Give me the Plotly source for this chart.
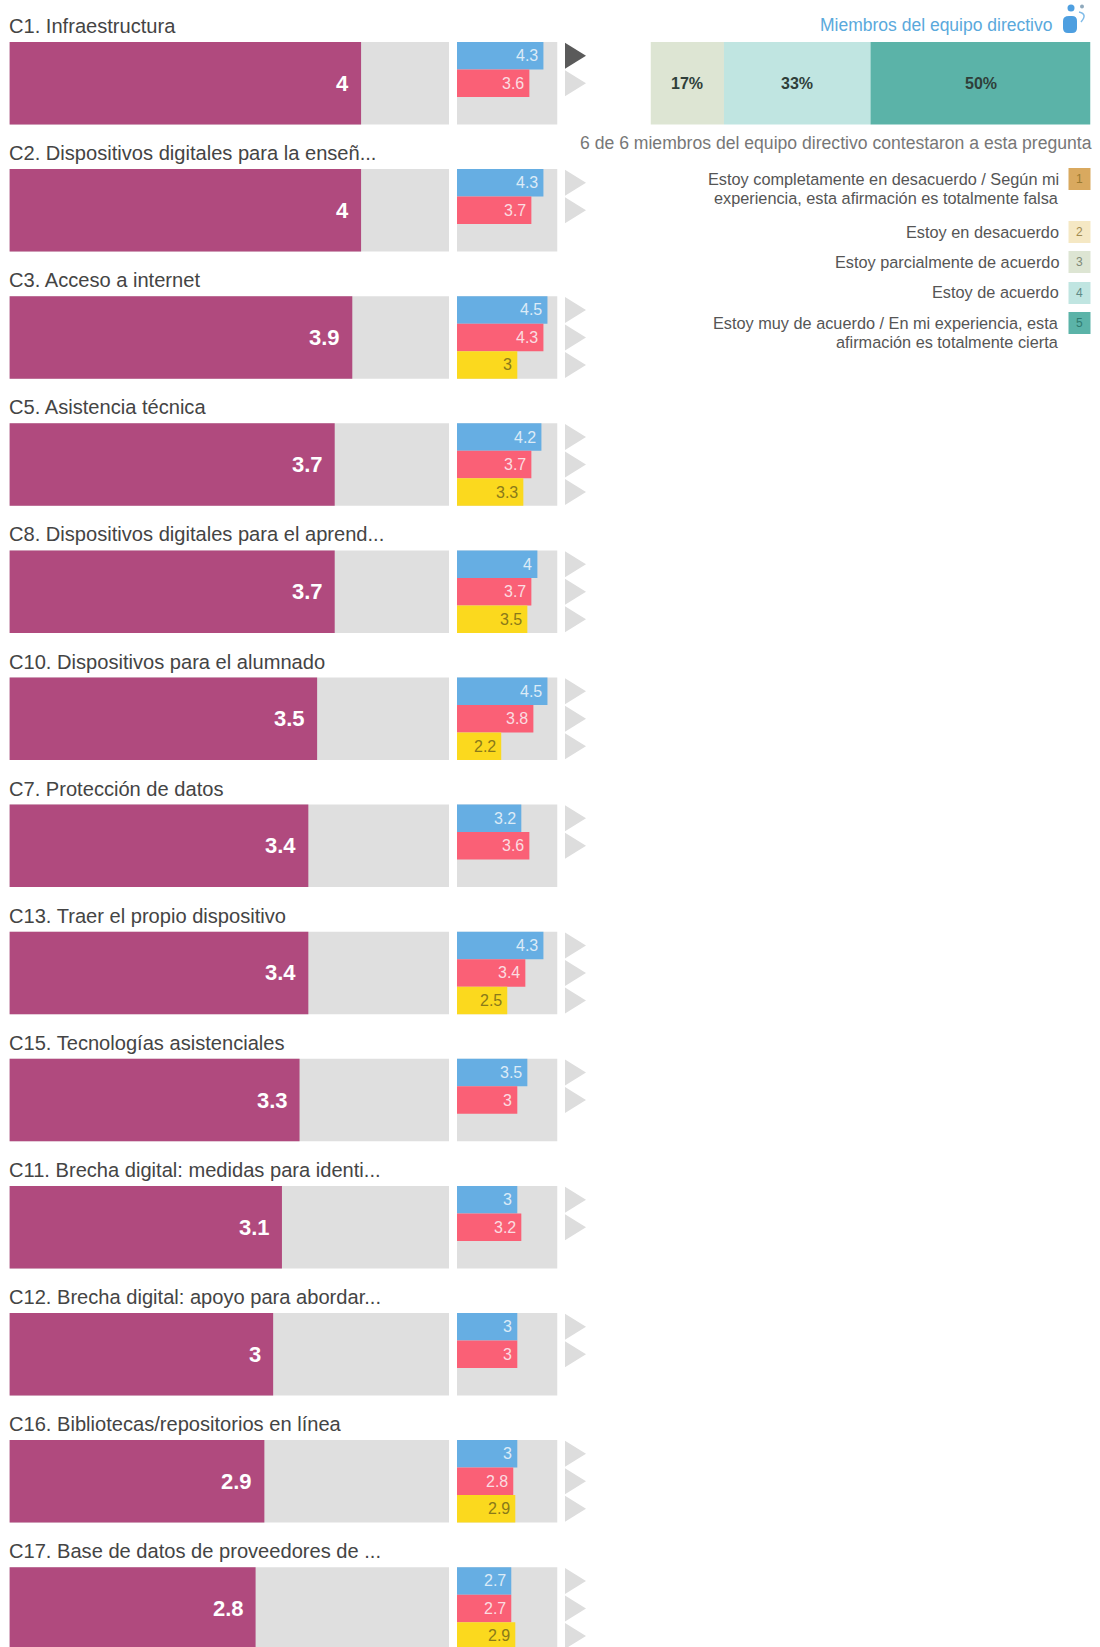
import plotly.graph_objects as go

categories = ["C1. Infraestructura", "C2. Dispositivos digitales para la enseñ...", "C3. Acceso a internet",
              "C5. Asistencia técnica", "C8. Dispositivos digitales para el aprend...", "C10. Dispositivos para el alumnado",
              "C7. Protección de datos", "C13. Traer el propio dispositivo", "C15. Tecnologías asistenciales",
              "C11. Brecha digital: medidas para identi...", "C12. Brecha digital: apoyo para abordar...",
              "C16. Bibliotecas/repositorios en línea", "C17. Base de datos de proveedores de ..."]
main_values = [4, 4, 3.9, 3.7, 3.7, 3.5, 3.4, 3.4, 3.3, 3.1, 3, 2.9, 2.8]
blue_values = [4.3, 4.3, 4.5, 4.2, 4, 4.5, 3.2, 4.3, 3.5, 3, 3, 3, 2.7]
red_values = [3.6, 3.7, 4.3, 3.7, 3.7, 3.8, 3.6, 3.4, 3, 3.2, 3, 2.8, 2.7]
yellow_values = [None, None, 3, 3.3, 3.5, 2.2, None, 2.5, None, None, None, 2.9, 2.9]
stack_percent = [16.7, 33.3, 50]
stack_colors = ["#DDE5D3", "#C0E5E1", "#5BB3A8"]
legend_labels = [["Estoy completamente en desacuerdo / Según mi", "experiencia, esta afirmación es totalmente falsa"],
                 ["Estoy en desacuerdo"], ["Estoy parcialmente de acuerdo"], ["Estoy de acuerdo"],
                 ["Estoy muy de acuerdo / En mi experiencia, esta", "afirmación es totalmente cierta"]]
legend_colors = ["#D9A95F", "#F5E8C4", "#DDE5D3", "#C0E5E1", "#5BB3A8"]
legend_numcolors = ["#9a7a30", "#a08a50", "#7f8a78", "#5f8a85", "#2f7a70"]
legend_top = [168, 221, 251, 282, 312]
legend_lines = [[179, 198], [231.5], [262], [292], [323, 341.5]]

FONT = "Liberation Sans, Arial, sans-serif"
W, H = 1100, 1647
PITCH, BAR_TOP, BAR_H = 127.1, 42, 82.5
C0 = BAR_TOP + BAR_H / 2
BW = BAR_H / PITCH
SLOT = BW / 3
n = len(categories)
rows = list(range(n))

def px(x): return x / W
def py(y): return 1 - y / H

fig = go.Figure()
fig.add_bar(y=rows, x=[5] * n, orientation="h", width=BW, marker=dict(color="#DFDFDF", line_width=0), xaxis="x", yaxis="y", hoverinfo="skip")
fig.add_bar(y=rows, x=[5] * n, orientation="h", width=BW, marker=dict(color="#DFDFDF", line_width=0), xaxis="x2", yaxis="y", hoverinfo="skip")
fig.add_bar(y=rows, x=main_values, orientation="h", width=BW, marker=dict(color="#B04A7E", line_width=0), xaxis="x", yaxis="y", name="main")

series = [(blue_values, "#66AEE3", "#DCEBF7"), (red_values, "#FA6076", "#FBDDE1"), (yellow_values, "#FBD91E", "#8A7A1A")]
annotations = []
shapes = []
for k, (vals, col, tcol) in enumerate(series):
    offs = -BW / 2 + k * SLOT
    fig.add_bar(y=rows, x=vals, orientation="h", width=SLOT, offset=offs, marker=dict(color=col, line_width=0), xaxis="x2", yaxis="y")
    for i, v in enumerate(vals):
        if v is None:
            continue
        yc = i + offs + SLOT / 2
        annotations.append(dict(x=v, y=yc, xref="x2", yref="y", text=str(v), showarrow=False, xanchor="right", yanchor="middle", xshift=-3,
                                font=dict(family=FONT, size=16, color=tcol)))
        cy = C0 + yc * PITCH
        color = "#5A5A5A" if (i == 0 and k == 0) else "#DDDDDD"
        shapes.append(dict(type="path", xref="paper", yref="paper", fillcolor=color, line_width=0, layer="above",
                           path=f"M{px(565)},{py(cy - 13)} L{px(586)},{py(cy)} L{px(565)},{py(cy + 13)} Z"))

for i, (c, v) in enumerate(zip(categories, main_values)):
    annotations.append(dict(x=px(7.4), y=py(26 + i * PITCH), xref="paper", yref="paper", text=c, showarrow=False, xanchor="left", yanchor="middle",
                            font=dict(family=FONT, size=20.1, color="#444444")))
    annotations.append(dict(x=v, y=i, xref="x", yref="y", text=f"<b>{v}</b>", showarrow=False, xanchor="right", yanchor="middle", xshift=-10,
                            font=dict(family=FONT, size=22, color="white")))

base = 0
for p, col in zip(stack_percent, stack_colors):
    fig.add_bar(y=[0], x=[p], base=[base], orientation="h", width=BW, marker=dict(color=col, line_width=0), xaxis="x3", yaxis="y")
    annotations.append(dict(x=base + p / 2, y=0, xref="x3", yref="y", text=f"<b>{round(p)}%</b>", showarrow=False, xanchor="center", yanchor="middle",
                            font=dict(family=FONT, size=16, color="#2F3F3A")))
    base += p

annotations.append(dict(x=px(1054), y=py(25), xref="paper", yref="paper", text="Miembros del equipo directivo", showarrow=False,
                        xanchor="right", yanchor="middle", font=dict(family=FONT, size=17.5, color="#5AA9DC")))
annotations.append(dict(x=px(1094), y=py(143), xref="paper", yref="paper", text="6 de 6 miembros del equipo directivo contestaron a esta pregunta",
                        showarrow=False, xanchor="right", yanchor="middle", font=dict(family=FONT, size=17.6, color="#777777")))

for j, (labs, ys) in enumerate(zip(legend_labels, legend_lines)):
    for lab, yy in zip(labs, ys):
        annotations.append(dict(x=px(1061), y=py(yy), xref="paper", yref="paper", text=lab, showarrow=False, xanchor="right", yanchor="middle",
                                font=dict(family=FONT, size=16.3, color="#555555")))
    t = legend_top[j]
    shapes.append(dict(type="rect", xref="paper", yref="paper", x0=px(1068.5), x1=px(1090.5), y0=py(t), y1=py(t + 22),
                       fillcolor=legend_colors[j], line_width=0))
    annotations.append(dict(x=px(1079.5), y=py(t + 11), xref="paper", yref="paper", text=str(j + 1), showarrow=False, xanchor="center", yanchor="middle",
                            font=dict(family=FONT, size=12, color=legend_numcolors[j])))

ICON = "#4E9FE0"
shapes.append(dict(type="path", xref="paper", yref="paper", fillcolor=ICON, line_width=0,
                   path=f"M{px(1063)},{py(21)} Q{px(1063)},{py(16)} {px(1069)},{py(16)} L{px(1072)},{py(16)} Q{px(1077)},{py(16)} {px(1077)},{py(21)} "
                        f"L{px(1077)},{py(28)} Q{px(1077)},{py(33)} {px(1072)},{py(33)} L{px(1068)},{py(33)} Q{px(1063)},{py(33)} {px(1063)},{py(28)} Z"))
shapes.append(dict(type="circle", xref="paper", yref="paper", x0=px(1067.5), x1=px(1074.5), y0=py(4.5), y1=py(11.5), fillcolor=ICON, line_width=0))
shapes.append(dict(type="circle", xref="paper", yref="paper", x0=px(1080), x1=px(1084), y0=py(4.5), y1=py(8.5), fillcolor="#8FA9BC", line_width=0))
shapes.append(dict(type="path", xref="paper", yref="paper", line=dict(color="#7FBBE8", width=1.5),
                   path=f"M{px(1079)},{py(12)} Q{px(1088)},{py(14)} {px(1081)},{py(22)}"))

axis = dict(visible=False, fixedrange=True)
fig.update_layout(
    width=W, height=H, margin=dict(l=0, r=0, t=0, b=0), barmode="overlay", showlegend=False,
    paper_bgcolor="white", plot_bgcolor="white", annotations=annotations, shapes=shapes,
    xaxis=dict(axis, domain=[px(9.4), px(449)], range=[0, 5]),
    xaxis2=dict(axis, domain=[px(457), px(557.5)], range=[0, 5], anchor="y"),
    xaxis3=dict(axis, domain=[px(650.5), px(1090.5)], range=[0, 100], anchor="y"),
    yaxis=dict(axis, domain=[0, 1], range=[(H - C0) / PITCH, -C0 / PITCH]),
)
fig.write_html("out.html", post_script="document.body.style.margin='0';", config=dict(displayModeBar=False))
